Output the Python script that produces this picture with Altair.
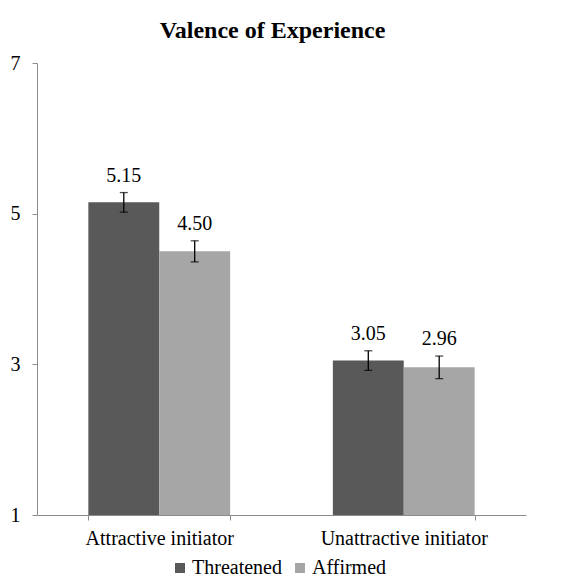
import altair as alt
import pandas as pd

# Mean valence ratings with standard errors
conditions = ["Attractive initiator", "Attractive initiator",
              "Unattractive initiator", "Unattractive initiator"]
groups = ["Threatened", "Affirmed", "Threatened", "Affirmed"]
means = [5.15, 4.50, 3.05, 2.96]
errors = [0.13, 0.14, 0.13, 0.15]

group_order = ["Threatened", "Affirmed"]
group_colors = ["#595959", "#a6a6a6"]
y_ticks = [1, 3, 5, 7]

df = pd.DataFrame({"condition": conditions, "group": groups,
                   "mean": means, "err": errors})
df["lo"] = df["mean"] - df["err"]
df["hi"] = df["mean"] + df["err"]
df["label"] = df["mean"].map(lambda v: f"{v:.2f}")

FONT = "Liberation Serif, Times New Roman, serif"
AXIS_GRAY = "#8c8c8c"

x_enc = alt.X("condition:N", title=None, sort=None,
              scale=alt.Scale(paddingInner=0.42, paddingOuter=0.21),
              axis=alt.Axis(labelAngle=0, labelFontSize=20, labelFont=FONT,
                            labelColor="black", labelPadding=8,
                            tickBand="extent", tickSize=5,
                            domainColor=AXIS_GRAY, tickColor=AXIS_GRAY))
xo_enc = alt.XOffset("group:N", sort=group_order,
                     scale=alt.Scale(paddingInner=0, paddingOuter=0))
y_scale = alt.Scale(domain=[1, 7], zero=False, nice=False)

base = alt.Chart(df)

bars = base.mark_bar().encode(
    x=x_enc,
    xOffset=xo_enc,
    y=alt.Y("mean:Q", scale=y_scale, title=None,
            axis=alt.Axis(values=y_ticks, format="d", grid=False,
                          labelFontSize=20, labelFont=FONT,
                          labelColor="black", labelPadding=12,
                          tickSize=5, domainColor=AXIS_GRAY,
                          tickColor=AXIS_GRAY)),
    y2=alt.datum(1),
    color=alt.Color("group:N", sort=group_order, title=None,
                    scale=alt.Scale(domain=group_order, range=group_colors),
                    legend=alt.Legend(orient="none", direction="horizontal",
                                      legendX=133, legendY=495,
                                      symbolType="square", symbolSize=100,
                                      symbolStrokeWidth=0,
                                      labelFontSize=20, labelFont=FONT,
                                      labelColor="black", columnPadding=8,
                                      labelOffset=2)),
)

whiskers = base.mark_rule(color="black", strokeWidth=1.3).encode(
    x=alt.X("condition:N", sort=None), xOffset=xo_enc,
    y=alt.Y("lo:Q", scale=y_scale), y2="hi:Q",
)

caps_hi = base.mark_tick(color="black", thickness=1.3, size=8,
                         orient="horizontal").encode(
    x=alt.X("condition:N", sort=None), xOffset=xo_enc,
    y=alt.Y("hi:Q", scale=y_scale),
)
caps_lo = base.mark_tick(color="black", thickness=1.3, size=8,
                         orient="horizontal").encode(
    x=alt.X("condition:N", sort=None), xOffset=xo_enc,
    y=alt.Y("lo:Q", scale=y_scale),
)

labels = base.mark_text(font=FONT, fontSize=20, color="black",
                        baseline="bottom", dy=-7).encode(
    x=alt.X("condition:N", sort=None), xOffset=xo_enc,
    y=alt.Y("hi:Q", scale=y_scale),
    text="label:N",
)

chart = alt.layer(bars, whiskers, caps_hi, caps_lo, labels).properties(
    width=489, height=452,
    title=alt.Title("Valence of Experience", font=FONT, fontSize=24,
                    fontWeight="bold", color="black", anchor="middle",
                    frame="group", dx=-9, offset=10),
    autosize=alt.AutoSizeParams(type="none"),
    padding={"left": 37, "top": 63, "right": 39, "bottom": 66},
).configure(
    background="white", font=FONT,
    view=alt.ViewConfig(strokeWidth=0, stroke="transparent"),
)

chart.save("out.html", embed_options={"renderer": "svg", "actions": False})
